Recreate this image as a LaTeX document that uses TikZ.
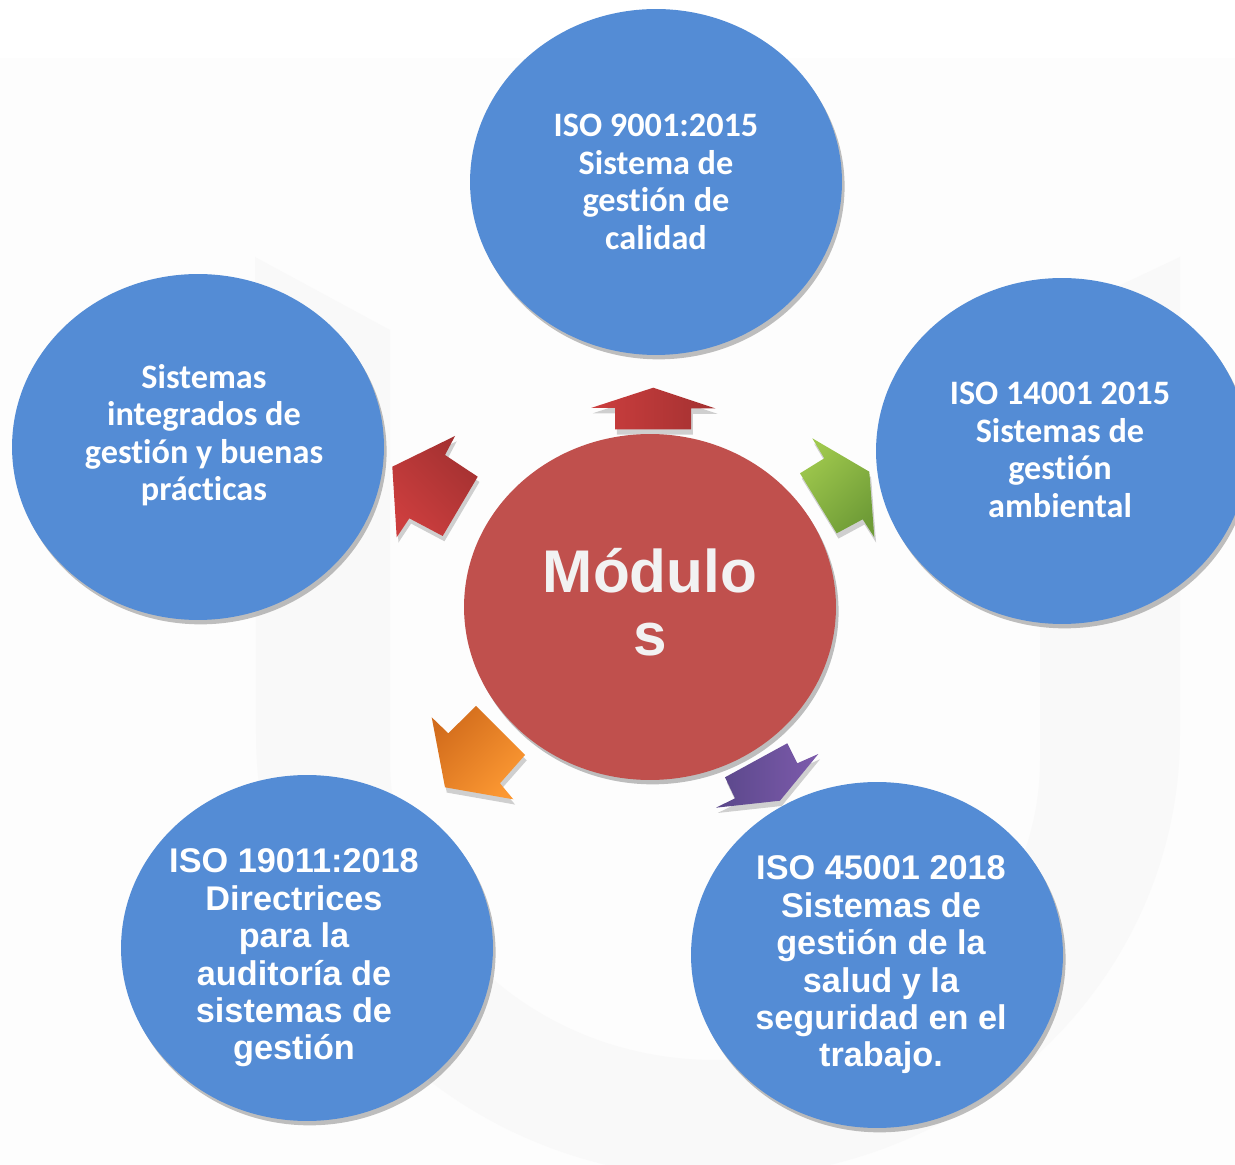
\documentclass[tikz,border=0pt]{standalone}
\usepackage{fontspec}
\setmainfont{Liberation Sans}
\newfontfamily\calfont{Carlito}[Ligatures=NoCommon]
\usetikzlibrary{shapes.geometric,shadows}
\definecolor{blobblue}{HTML}{548CD5}
\definecolor{hubred}{HTML}{C0504D}
\definecolor{hubtext}{HTML}{F2F2F2}
\definecolor{wmark}{HTML}{F9F9F9}
\definecolor{bgband}{HTML}{FDFDFD}
\definecolor{redA}{HTML}{CC3E3E}
\definecolor{redB}{HTML}{A33131}
\definecolor{greenA}{HTML}{9FC84D}
\definecolor{greenB}{HTML}{6F9C37}
\definecolor{orangeA}{HTML}{D26C1C}
\definecolor{orangeB}{HTML}{FC9832}
\definecolor{purpleA}{HTML}{5A478A}
\definecolor{purpleB}{HTML}{7D5BAC}
\begin{document}
\begin{tikzpicture}[x=0.02cm,y=-0.02cm,
  circ/.style={ellipse, fill=blobblue, minimum width=7.44cm, minimum height=6.92cm, inner sep=0pt,
    drop shadow={shadow xshift=1.5pt, shadow yshift=-2.5pt, opacity=0.25, fill=black}},
  hub/.style={circ, fill=hubred},
  ctxt/.style={text=white, align=center, inner sep=0pt, font=\calfont\bfseries\fontsize{19.5}{21.3}\selectfont},
  atxt/.style={text=white, align=center, inner sep=0pt, font=\bfseries\fontsize{19.5}{21.3}\selectfont},
  htxt/.style={text=hubtext, align=center, inner sep=0pt, font=\bfseries\fontsize{34.3}{35.7}\selectfont},
  blockarrow/.style={drop shadow={shadow xshift=1pt, shadow yshift=-3pt, opacity=0.18, fill=black}}]
\useasboundingbox (0,0) rectangle (1235,1165);
% background
\fill[white] (0,0) rectangle (1235,1165);
\fill[bgband] (0,58) rectangle (1235,1165);
% faint U watermark
\fill[wmark] (255,257) -- (390,330) -- (390,760)
  arc[start angle=180, end angle=0, x radius=325, y radius=300] -- (1040,323) -- (1180,257) -- (1180,734)
  arc[start angle=0, end angle=180, x radius=462, y radius=444] -- cycle;
% block arrows
\shade[blockarrow, top color=redA, bottom color=redB, shading angle=90]
  (591,408) -- (653.3,387.7) -- (715.7,408.5) -- (691,408.5) -- (691,429.3) -- (615,429.3) -- (615,408) -- cycle;
\shade[blockarrow, top color=greenA, bottom color=greenB, shading angle=45]
  (812.3,438.3) -- (869.3,471.7) -- (874.3,537.3) -- (862.7,519.3) -- (836.7,533.3) -- (800,473.3) -- (824.3,458.3) -- cycle;
\shade[blockarrow, top color=redB, bottom color=redA, shading angle=-45]
  (455,436) -- (445,455) -- (477.7,476.7) -- (442.7,536) -- (409.3,518.3) -- (396.7,537.3) -- (392.3,466.7) -- cycle;
\shade[blockarrow, top color=orangeA, bottom color=orangeB, shading angle=45]
  (431.7,717.3) -- (448.3,733.3) -- (476,706) -- (525,755) -- (500,783.3) -- (513.3,799.3) -- (445,787.3) -- cycle;
\shade[blockarrow, top color=purpleA, bottom color=purpleB, shading angle=90]
  (787.3,743.3) -- (797.3,763.3) -- (818.3,754) -- (780,800.7) -- (716,807.7) -- (735,798.3) -- (725,777.3) -- cycle;
% circles
\node[circ] (top) at (656,182) {};
\node[circ] (left) at (198,447) {};
\node[circ] (right) at (1062,451) {};
\node[circ] (botleft) at (307,948) {};
\node[circ] (botright) at (877,955) {};
\node[hub] (hub) at (650,607) {};
% texts
\node[ctxt] (ttop) at (656,182) {ISO 9001:2015\\Sistema de\\gestión de\\calidad};
\node[ctxt] (tleft) at (204,435) {Sistemas\\integrados de\\gestión y buenas\\prácticas};
\node[ctxt] (tright) at (1060,450) {ISO 14001 2015\\Sistemas de\\gestión\\ambiental};
\node[atxt] (tbotleft) at (294,958) {ISO 19011:2018\\Directrices\\para la\\auditoría de\\sistemas de\\gestión};
\node[atxt] (tbotright) at (881,965) {ISO 45001 2018\\Sistemas de\\gestión de la\\salud y la\\seguridad en el\\trabajo.};
\node[htxt] (thub) at (650,602) {Módulo\\s};
\end{tikzpicture}
\end{document}
